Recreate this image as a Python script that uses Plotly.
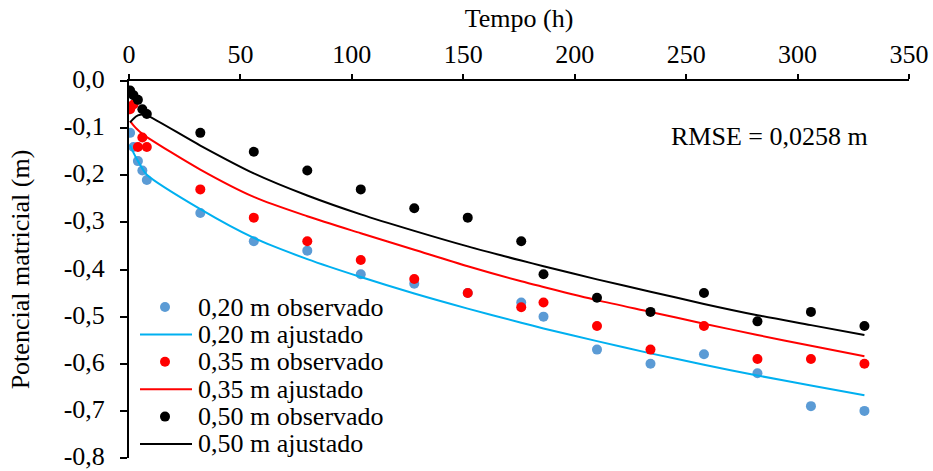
import plotly.graph_objects as go

# Observation times (h)
t_obs = [0.5, 2, 4, 6, 8, 32, 56, 80, 104, 128, 152, 176, 186, 210, 234, 258, 282, 306, 330]

# Observed matric potential (m) at each depth
obs_020 = [-0.11, -0.14, -0.17, -0.19, -0.21, -0.28, -0.34, -0.36, -0.41, -0.43, -0.45, -0.47, -0.50,
           -0.57, -0.60, -0.58, -0.62, -0.69, -0.70]
obs_035 = [-0.06, -0.05, -0.14, -0.12, -0.14, -0.23, -0.29, -0.34, -0.38, -0.42, -0.45, -0.48, -0.47,
           -0.52, -0.57, -0.52, -0.59, -0.59, -0.60]
obs_050 = [-0.02, -0.03, -0.04, -0.06, -0.07, -0.11, -0.15, -0.19, -0.23, -0.27, -0.29, -0.34, -0.41,
           -0.46, -0.49, -0.45, -0.51, -0.49, -0.52]

# Fitted matric potential (m) at the same times
fit_020 = [-0.136, -0.152, -0.170, -0.186, -0.199, -0.272, -0.333, -0.378, -0.416, -0.451, -0.483,
           -0.513, -0.525, -0.552, -0.578, -0.602, -0.625, -0.646, -0.667]
fit_035 = [-0.085, -0.094, -0.104, -0.112, -0.119, -0.188, -0.246, -0.287, -0.323, -0.358, -0.393,
           -0.425, -0.437, -0.465, -0.490, -0.515, -0.539, -0.562, -0.584]
fit_050 = [-0.088, -0.080, -0.073, -0.071, -0.073, -0.137, -0.196, -0.243, -0.283, -0.318, -0.351,
           -0.381, -0.393, -0.421, -0.447, -0.473, -0.497, -0.518, -0.539]

x_ticks = [0, 50, 100, 150, 200, 250, 300, 350]
y_ticks = [0.0, -0.1, -0.2, -0.3, -0.4, -0.5, -0.6, -0.7, -0.8]
y_ticktext = ["0,0", "-0,1", "-0,2", "-0,3", "-0,4", "-0,5", "-0,6", "-0,7", "-0,8"]

FONT = "Liberation Serif"
FS = 26

series = [
    ("0,20 m", obs_020, fit_020, "#5B9BD5", "#00B0F0"),
    ("0,35 m", obs_035, fit_035, "#FF0000", "#FF0000"),
    ("0,50 m", obs_050, fit_050, "#000000", "#000000"),
]

W, H = 933, 471
ml, mr, mt, mb = 129, 24, 81, 13
plot_w = W - ml - mr
plot_h = H - mt - mb


def px_x(px):
    return (px - ml) / plot_w


def px_y(py):
    return 1 - (py - mt) / plot_h


fig = go.Figure()
for name, obs, fit, mcol, lcol in series:
    fig.add_trace(go.Scatter(
        x=t_obs, y=obs, mode="markers", name=f"{name} observado", showlegend=False,
        marker=dict(color=mcol, size=10, line=dict(width=0)),
    ))
    fig.add_trace(go.Scatter(
        x=t_obs, y=fit, mode="lines", name=f"{name} ajustado", showlegend=False,
        line=dict(color=lcol, width=2, shape="spline", smoothing=0.8),
    ))

# Compact legend block (tight Excel-style row spacing)
shapes = []
annotations = []
row_y = 307
row_step = 27.4
for name, obs, fit, mcol, lcol in series:
    # observed entry: dot
    shapes.append(dict(
        type="circle", xref="paper", yref="paper", xsizemode="pixel", ysizemode="pixel",
        xanchor=px_x(165), yanchor=px_y(row_y), x0=-5, x1=5, y0=-5, y1=5,
        fillcolor=mcol, line=dict(width=0),
    ))
    annotations.append(dict(
        x=px_x(196), y=px_y(row_y), xref="paper", yref="paper", xanchor="left", yanchor="middle",
        text=f"{name} observado", showarrow=False, height=27,
        font=dict(family=FONT, size=FS, color="black"),
    ))
    row_y += row_step
    # fitted entry: line
    shapes.append(dict(
        type="line", xref="paper", yref="paper",
        x0=px_x(140), x1=px_x(192), y0=px_y(row_y), y1=px_y(row_y),
        line=dict(color=lcol, width=2),
    ))
    annotations.append(dict(
        x=px_x(196), y=px_y(row_y), xref="paper", yref="paper", xanchor="left", yanchor="middle",
        text=f"{name} ajustado", showarrow=False, height=27,
        font=dict(family=FONT, size=FS, color="black"),
    ))
    row_y += row_step

annotations.append(dict(
    x=287.5, y=-0.117, xref="x", yref="y", text="RMSE = 0,0258 m",
    showarrow=False, font=dict(family=FONT, size=FS, color="black"),
))

fig.update_layout(
    width=W, height=H,
    margin=dict(l=ml, r=mr, t=mt, b=mb),
    paper_bgcolor="white", plot_bgcolor="white",
    font=dict(family=FONT, size=FS, color="black"),
    showlegend=False,
    xaxis=dict(
        side="top", range=[0, 350], tickvals=x_ticks,
        showgrid=False, zeroline=False, automargin=False,
        showline=True, linecolor="black", linewidth=2,
        ticks="outside", ticklen=5, tickcolor="black", tickwidth=1.5,
        tickfont=dict(family=FONT, size=FS), ticklabelstandoff=1,
        ticklabeloverflow="allow",
        title=dict(text="Tempo (h)", font=dict(family=FONT, size=FS), standoff=4),
    ),
    yaxis=dict(
        range=[-0.8, 0], tickvals=y_ticks, ticktext=y_ticktext,
        showgrid=False, zeroline=False, automargin=False,
        showline=True, linecolor="black", linewidth=2,
        ticks="outside", ticklen=7, tickcolor="black", tickwidth=1.5,
        tickfont=dict(family=FONT, size=FS), ticklabelstandoff=10, ticklabelshift=-2,
        ticklabeloverflow="allow",
        title=dict(text="Potencial matricial (m)", font=dict(family=FONT, size=FS), standoff=27),
    ),
    shapes=shapes,
    annotations=annotations,
)

fig.write_html("out.html")
